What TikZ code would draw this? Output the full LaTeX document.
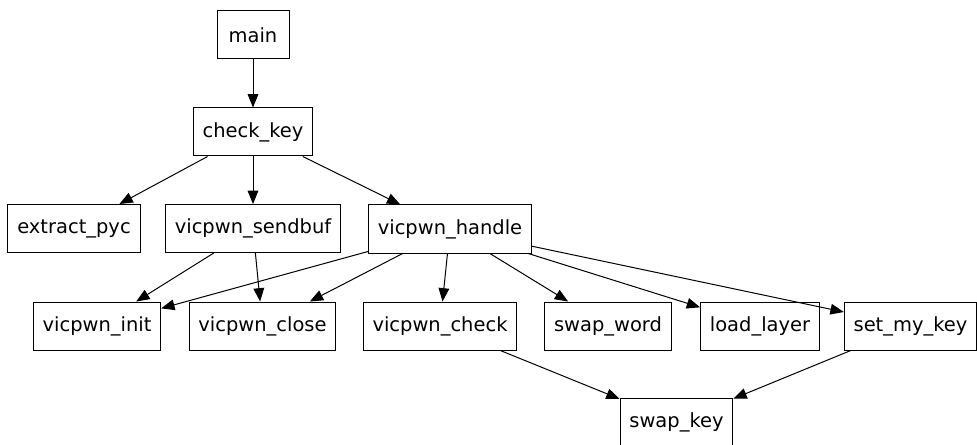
\documentclass[tikz,border=0pt]{standalone}
\usepackage{fontspec}
\setmainfont{DejaVu Sans}
\usetikzlibrary{arrows.meta}
\tikzset{
  fn/.style={draw, line width=0.75pt, inner xsep=7pt, inner ysep=0pt,
    minimum width=54pt, minimum height=36pt, font=\fontsize{14.6}{17}\selectfont},
  call/.style={-{Triangle[length=10pt,width=8pt]}, line width=0.75pt},
}
\begin{document}
\begin{tikzpicture}[x=0.75pt, y=0.75pt] % {{{
\useasboundingbox (0,0) rectangle (977,-445);
% Funciones   {{{
\node[fn] (main) at (253,-35) {main} ;
\node[fn] (checkkey) at (253,-132) {check\_key} ;
\node[fn] (extract) at (74,-228.5) {extract\_pyc} ;
\node[fn] (sendbuf) at (253,-228.5) {vicpwn\_sendbuf} ;
\node[fn] (handle) at (450,-229) {vicpwn\_handle} ;
\node[fn] (init) at (97,-326) {vicpwn\_init} ;
\node[fn] (close) at (262.5,-326) {vicpwn\_close} ;
\node[fn] (check) at (440,-326) {vicpwn\_check} ;
\node[fn] (swapword) at (608,-326) {swap\_word} ;
\node[fn] (loadlayer) at (760,-326) {load\_layer} ;
\node[fn] (setmykey) at (910.5,-326) {set\_my\_key} ;
\node[fn] (swapkey) at (676.5,-422) {swap\_key} ;
% }}}
% Llamadas   {{{
\draw[call] (main) -- (checkkey) ;
\draw[call] (checkkey) -- (extract) ;
\draw[call] (checkkey) -- (sendbuf) ;
\draw[call] (checkkey) -- (handle) ;
\draw[call] (sendbuf) -- (init) ;
\draw[call] (sendbuf) -- (close) ;
\draw[call] (handle) -- (init) ;
\draw[call] (handle) -- (close) ;
\draw[call] (handle) -- (check) ;
\draw[call] (handle) -- (swapword) ;
\draw[call] (handle) -- (loadlayer) ;
\draw[call] (handle) -- (setmykey) ;
\draw[call] (check) -- (swapkey) ;
\draw[call] (setmykey) -- (swapkey) ;
% }}}
\end{tikzpicture} % }}}
\end{document}
